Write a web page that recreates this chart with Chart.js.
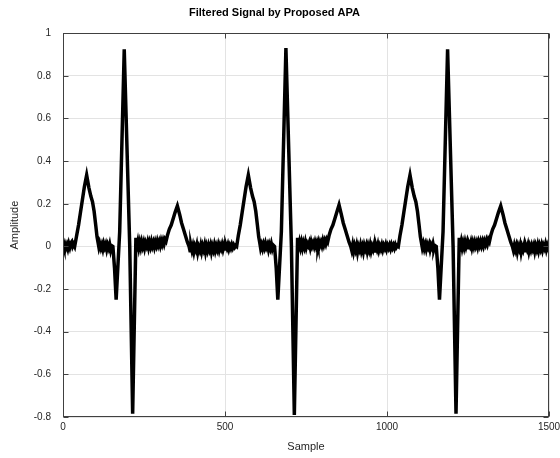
<!DOCTYPE html>
<html>
<head>
<meta charset="utf-8">
<script src="https://cdn.jsdelivr.net/npm/chart.js@4.4.0/dist/chart.umd.min.js"></script>
<style>
  body { margin: 0; background: #fff; }
  canvas { display: block; }
</style>
</head>
<body>
<canvas id="grafico" width="560" height="458"></canvas>
<script>
// eixos
const xTickValues = [0, 500, 1000, 1500];
const xTickLabels = ['0', '500', '1000', '1500'];
const yTickValues = [-0.8, -0.6, -0.4, -0.2, 0, 0.2, 0.4, 0.6, 0.8, 1];
const yTickLabels = ['-0.8', '-0.6', '-0.4', '-0.2', '0', '0.2', '0.4', '0.6', '0.8', '1'];

// batimento 1 [amostra, amplitude]
const beat1 = [
  [0,0.008],[3,-0.008],[6,0.01],[9,-0.006],[12,0.008],[15,-0.01],[18,0.012],[21,-0.004],[24,0.016],[27,0.022],[30,0.0],[33,0.01],[36,0.0],
  [42,0.05],[48,0.1],[54,0.16],[60,0.22],[66,0.28],[73,0.335],[80,0.275],[86,0.235],[91,0.21],[96,0.165],[101,0.1],[105,0.045],[108,0.02],
  [111,-0.006],[114,0.01],[117,-0.008],[120,0.008],[123,-0.012],[126,0.012],[129,-0.004],[132,0.01],[135,-0.014],[138,0.006],[141,-0.008],[144,0.01],[147,-0.016],[150,0.004],[154,0.0],
  [159,-0.1],[164,-0.25],[175,0.07],[189,0.925],[206,0.0],[215,-0.785],[225,0.04],
  [228,0.0],[231,0.022],[234,-0.006],[237,0.018],[240,-0.004],[243,0.02],[246,0.0],[249,0.018],[252,-0.006],[255,0.016],[258,0.002],[261,0.02],[264,-0.004],[267,0.018],[270,0.0],[273,0.022],[276,0.002],[279,0.018],[282,-0.002],[285,0.02],[288,0.004],[291,0.024],[294,0.006],[297,0.022],[300,0.004],[303,0.026],[306,0.01],[309,0.028],[312,0.012],[315,0.032],[318,0.024],
  [322,0.05],[328,0.08],[334,0.1],[340,0.13],[346,0.16],[353,0.19],[360,0.15],[366,0.11],[372,0.08],[378,0.05],[384,0.02],[389,0.0],
  [392,-0.02],[395,0.004],[398,-0.018],[401,0.002],[404,-0.024],[407,0.0],[410,-0.014],[413,0.006],[416,-0.026],[419,-0.004],[422,-0.018],[425,0.004],[428,-0.022],[431,0.002],[434,-0.014],[437,0.006],[440,-0.024],[443,0.0],[446,-0.018],[449,0.004],[452,-0.014],[455,0.004],[458,-0.024],[461,0.0],[464,-0.016],[467,0.006],[470,-0.018],[473,0.002],[476,-0.014],[479,0.006],[482,-0.016],[485,0.004],[488,-0.01],[491,0.008],[494,-0.014],[497,0.004],[500,-0.012],[503,0.006],[506,-0.008],[509,0.008],[512,-0.012],[515,0.004],[518,-0.008],[521,0.008],[524,-0.006],[527,0.006],[530,-0.004],[533,0.004]
];

// batimento 2
const beat2 = [
  [536,0.0],[541,0.05],[547,0.1],[553,0.16],[559,0.22],[565,0.28],[572,0.335],[579,0.275],[585,0.235],[590,0.21],[595,0.165],[600,0.1],[604,0.045],[607,0.02],
  [610,-0.008],[613,0.008],[616,-0.01],[619,0.01],[622,-0.006],[625,0.014],[628,-0.004],[631,0.008],[634,-0.014],[637,0.008],[640,-0.008],[643,0.012],[646,-0.01],[649,0.006],[653,0.0],
  [658,-0.1],[663,-0.25],[674,0.07],[688,0.93],[705,0.0],[714,-0.79],[724,0.04],
  [727,-0.002],[730,0.02],[733,-0.004],[736,0.018],[739,-0.006],[742,0.016],[745,-0.002],[748,0.02],[751,-0.004],[754,0.014],[757,0.004],[760,0.018],[763,-0.004],[766,0.02],[769,0.002],[772,0.016],[775,0.0],[778,0.02],[781,0.002],[784,0.018],[787,0.0],[790,0.022],[793,0.006],[796,0.02],[799,0.004],[802,0.026],[805,0.008],[808,0.026],[811,0.012],[814,0.032],[817,0.022],
  [821,0.05],[827,0.08],[833,0.1],[839,0.13],[845,0.16],[852,0.195],[859,0.15],[865,0.11],[871,0.08],[877,0.05],[883,0.02],[888,0.0],
  [891,-0.018],[894,0.006],[897,-0.022],[900,0.002],[903,-0.016],[906,0.004],[909,-0.026],[912,0.0],[915,-0.014],[918,0.006],[921,-0.02],[924,-0.002],[927,-0.024],[930,0.004],[933,-0.012],[936,0.004],[939,-0.022],[942,0.002],[945,-0.016],[948,0.006],[951,-0.02],[954,0.0],[957,-0.014],[960,0.006],[963,-0.022],[966,0.004],[969,-0.012],[972,0.008],[975,-0.016],[978,0.002],[981,-0.012],[984,0.006],[987,-0.014],[990,0.004],[993,-0.008],[996,0.008],[999,-0.012],[1002,0.004],[1005,-0.008],[1008,0.006],[1011,-0.01],[1014,0.008],[1017,-0.006],[1020,0.006],[1023,-0.008],[1026,0.008],[1029,-0.004],[1032,0.004]
];

// batimento 3
const beat3 = [
  [1035,0.0],[1040,0.05],[1046,0.1],[1052,0.16],[1058,0.22],[1064,0.28],[1071,0.335],[1078,0.275],[1084,0.235],[1089,0.21],[1094,0.165],[1099,0.1],[1103,0.045],[1106,0.02],
  [1109,-0.006],[1112,0.012],[1115,-0.01],[1118,0.008],[1121,-0.012],[1124,0.01],[1127,-0.004],[1130,0.01],[1133,-0.014],[1136,0.006],[1139,-0.006],[1142,0.012],[1145,-0.012],[1148,0.004],[1152,0.0],
  [1157,-0.1],[1162,-0.25],[1173,0.07],[1187,0.925],[1204,0.0],[1213,-0.785],[1223,0.04],
  [1226,0.0],[1229,0.022],[1232,-0.006],[1235,0.016],[1238,-0.004],[1241,0.02],[1244,0.0],[1247,0.018],[1250,-0.006],[1253,0.014],[1256,0.002],[1259,0.02],[1262,-0.004],[1265,0.018],[1268,0.0],[1271,0.02],[1274,0.002],[1277,0.018],[1280,-0.002],[1283,0.02],[1286,0.004],[1289,0.022],[1292,0.004],[1295,0.022],[1298,0.004],[1301,0.024],[1304,0.01],[1307,0.028],[1310,0.012],[1313,0.032],[1316,0.022],
  [1320,0.05],[1326,0.08],[1332,0.1],[1338,0.13],[1344,0.16],[1351,0.19],[1358,0.15],[1364,0.11],[1370,0.08],[1376,0.05],[1382,0.02],[1387,0.0],
  [1390,-0.018],[1393,0.004],[1396,-0.016],[1399,0.002],[1402,-0.024],[1405,0.002],[1408,-0.012],[1411,0.006],[1414,-0.026],[1417,-0.002],[1420,-0.016],[1423,0.004],[1426,-0.02],[1429,0.002],[1432,-0.012],[1435,0.006],[1438,-0.022],[1441,0.0],[1444,-0.016],[1447,0.004],[1450,-0.012],[1453,0.004],[1456,-0.022],[1459,0.002],[1462,-0.014],[1465,0.006],[1468,-0.018],[1471,0.004],[1474,-0.012],[1477,0.006],[1480,-0.016],[1483,0.004],[1486,-0.008],[1489,0.01],[1492,-0.014],[1495,0.004],[1498,-0.01],[1500,0.006]
];

const sinal = beat1.concat(beat2, beat3).map(p => ({ x: p[0], y: p[1] }));

Chart.defaults.font.family = "'Liberation Sans', Arial, Helvetica, sans-serif";
Chart.defaults.color = '#262626';

// caixa e ticks para dentro (estilo MATLAB)
const caixaEixos = {
  id: 'caixaEixos',
  afterDatasetsDraw(chart) {
    const { ctx, chartArea: a, scales: { x, y } } = chart;
    const L = Math.round(a.left) + 0.5, R = Math.round(a.right) - 0.5;
    const T = Math.round(a.top) + 0.5, B = Math.round(a.bottom) - 0.5;
    ctx.save();
    ctx.strokeStyle = '#404040';
    ctx.lineWidth = 1;
    ctx.strokeRect(L, T, R - L, B - T);
    ctx.beginPath();
    xTickValues.forEach(v => {
      const px = Math.round(x.getPixelForValue(v)) + 0.5;
      ctx.moveTo(px, B); ctx.lineTo(px, B - 5);
      ctx.moveTo(px, T); ctx.lineTo(px, T + 5);
    });
    yTickValues.forEach(v => {
      const py = Math.round(y.getPixelForValue(v)) + 0.5;
      ctx.moveTo(L, py); ctx.lineTo(L + 5, py);
      ctx.moveTo(R, py); ctx.lineTo(R - 5, py);
    });
    ctx.stroke();
    ctx.restore();
  }
};

new Chart(document.getElementById('grafico'), {
  type: 'line',
  data: {
    datasets: [{
      data: sinal,
      borderColor: '#000000',
      borderWidth: 3.5,
      pointRadius: 0,
      tension: 0,
      fill: false
    }]
  },
  options: {
    responsive: false,
    animation: false,
    layout: { padding: { left: 0, right: 11, top: 0, bottom: 0 } },
    plugins: {
      legend: { display: false },
      tooltip: { enabled: false },
      title: {
        display: true,
        text: 'Filtered Signal by Proposed APA',
        color: '#000000',
        font: { size: 11, weight: 'bold' },
        padding: { top: 6, bottom: 14 }
      }
    },
    scales: {
      x: {
        type: 'linear',
        min: 0, max: 1500,
        afterBuildTicks: s => { s.ticks = xTickValues.map(v => ({ value: v })); },
        afterFit: s => { s.height = 41; s.paddingLeft = 0; s.paddingRight = 0; },
        ticks: { font: { size: 10 }, padding: 4, maxRotation: 0, callback: (v, i) => xTickLabels[i] },
        grid: { color: '#e3e3e3', drawTicks: false },
        border: { display: false },
        title: { display: true, text: 'Sample', font: { size: 11 }, padding: { top: 0, bottom: 4 } }
      },
      y: {
        min: -0.8, max: 1,
        afterBuildTicks: s => { s.ticks = yTickValues.map(v => ({ value: v })); },
        afterFit: s => { s.width = 63; s.paddingTop = 0; s.paddingBottom = 0; },
        ticks: { font: { size: 10 }, padding: 12, callback: (v, i) => yTickLabels[i] },
        grid: { color: '#e3e3e3', drawTicks: false },
        border: { display: false },
        title: { display: true, text: 'Amplitude', font: { size: 11 }, padding: { top: 8, bottom: 0 } }
      }
    }
  },
  plugins: [caixaEixos]
});
</script>
</body>
</html>
